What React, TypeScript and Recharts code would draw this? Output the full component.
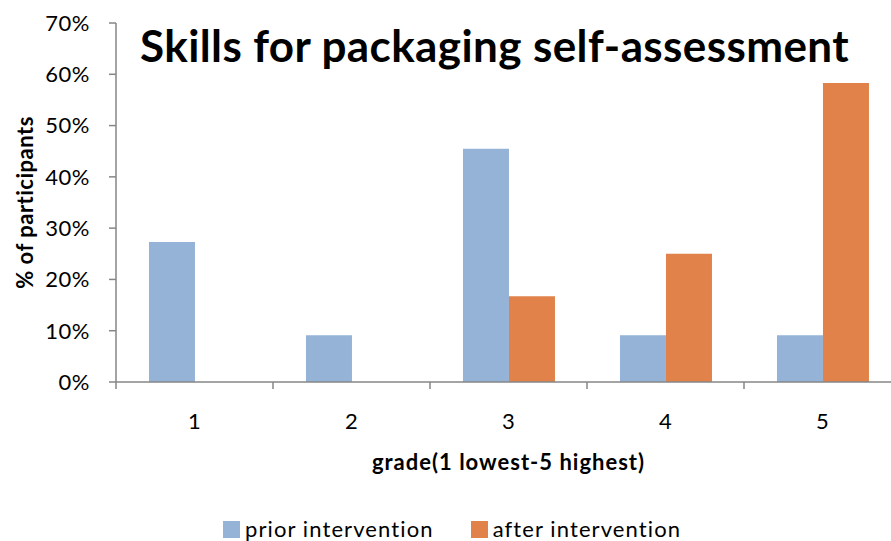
import { Bar, BarChart, Label, Legend, XAxis, YAxis } from "recharts";

const grades = ["1", "2", "3", "4", "5"];
const priorIntervention = [27.3, 9.1, 45.5, 9.1, 9.1];
const afterIntervention = [0, 0, 16.7, 25, 58.3];
const yTicks = [0, 10, 20, 30, 40, 50, 60, 70];

const PRIOR_COLOR = "#95B3D7";
const AFTER_COLOR = "#E0824A";
const AXIS_COLOR = "#868686";
const FONT = "Lato, 'Open Sans', sans-serif";
const X_TICK_SIZE = 6;
const X_TICK_MARGIN = 25;

const data = grades.map((grade, i) => ({
  grade,
  prior: priorIntervention[i],
  after: afterIntervention[i]
}));

// category label at the centre, tick mark at the category boundary (Excel style)
function GradeTick(props: any) {
  const { x, y, payload, index, visibleTicksCount } = props;
  const half = payload.offset ?? 0;
  const axisY = y - X_TICK_SIZE - X_TICK_MARGIN;
  return (
    <g>
      <line x1={x - half} x2={x - half} y1={axisY} y2={axisY + 7} stroke={AXIS_COLOR} strokeWidth={1.5} />
      {index === visibleTicksCount - 1 && (
        <line x1={x + half} x2={x + half} y1={axisY} y2={axisY + 7} stroke={AXIS_COLOR} strokeWidth={1.5} />
      )}
      <text x={x} y={y} dy="0.71em" textAnchor="middle" fill="#000" fontSize={22} fontFamily={FONT}>
        {payload.value}
      </text>
    </g>
  );
}

function LegendContent() {
  const items = [
    { label: "prior intervention", color: PRIOR_COLOR },
    { label: "after intervention", color: AFTER_COLOR }
  ];
  return (
    <div
      style={{
        display: "flex",
        paddingLeft: 223,
        paddingTop: 16,
        fontFamily: FONT,
        fontSize: 22,
        lineHeight: "24px",
        color: "#000"
      }}
    >
      {items.map((item, i) => (
        <div key={item.label} style={{ display: "flex", alignItems: "center", marginRight: i === 0 ? 37 : 0 }}>
          <span style={{ width: 17, height: 17, background: item.color, display: "inline-block", marginRight: 5 }} />
          <span style={{ letterSpacing: 1.1 }}>{item.label}</span>
        </div>
      ))}
    </div>
  );
}

export default function App() {
  return (
    <div
      style={{
        position: "absolute",
        left: 0,
        top: 0,
        width: 891,
        height: 541,
        overflow: "hidden",
        background: "#fff",
        fontFamily: FONT
      }}
    >
      <BarChart
        width={905}
        height={541}
        data={data}
        margin={{ top: 23, right: 4, bottom: 0, left: 0 }}
        barCategoryGap="21%"
        barGap={0}
      >
        <XAxis
          dataKey="grade"
          height={119}
          axisLine={{ stroke: AXIS_COLOR, strokeWidth: 1.5 }}
          tickLine={false}
          tickSize={X_TICK_SIZE}
          tickMargin={X_TICK_MARGIN}
          tick={<GradeTick />}
        >
          <Label
            value="grade(1 lowest-5 highest)"
            position="insideBottom"
            offset={31}
            style={{ fontSize: 22, fontWeight: 700, fill: "#000", fontFamily: FONT, letterSpacing: 1 }}
          />
        </XAxis>
        <YAxis
          width={116}
          domain={[0, 70]}
          ticks={yTicks}
          tickFormatter={(v: number) => `${v}%`}
          axisLine={{ stroke: AXIS_COLOR, strokeWidth: 1.5 }}
          tickLine={{ stroke: AXIS_COLOR, strokeWidth: 1.5 }}
          tickSize={7}
          tickMargin={19}
          tick={{ fill: "#000", fontSize: 22, fontFamily: FONT, letterSpacing: 0.5 }}
        >
          <Label
            value="% of participants"
            angle={-90}
            position="insideLeft"
            offset={25}
            style={{ textAnchor: "middle", fontSize: 22, fontWeight: 700, fill: "#000", fontFamily: FONT, letterSpacing: 0.5 }}
          />
        </YAxis>
        <Legend verticalAlign="bottom" height={40} wrapperStyle={{ left: 0, width: 891 }} content={<LegendContent />} />
        <Bar dataKey="prior" name="prior intervention" fill={PRIOR_COLOR} isAnimationActive={false} />
        <Bar dataKey="after" name="after intervention" fill={AFTER_COLOR} isAnimationActive={false} />
      </BarChart>
      <div
        style={{
          position: "absolute",
          left: 140,
          top: 23,
          fontSize: 44,
          lineHeight: "44px",
          fontWeight: 700,
          letterSpacing: 0.4,
          whiteSpace: "nowrap",
          color: "#000"
        }}
      >
        Skills for packaging self-assessment
      </div>
    </div>
  );
}
